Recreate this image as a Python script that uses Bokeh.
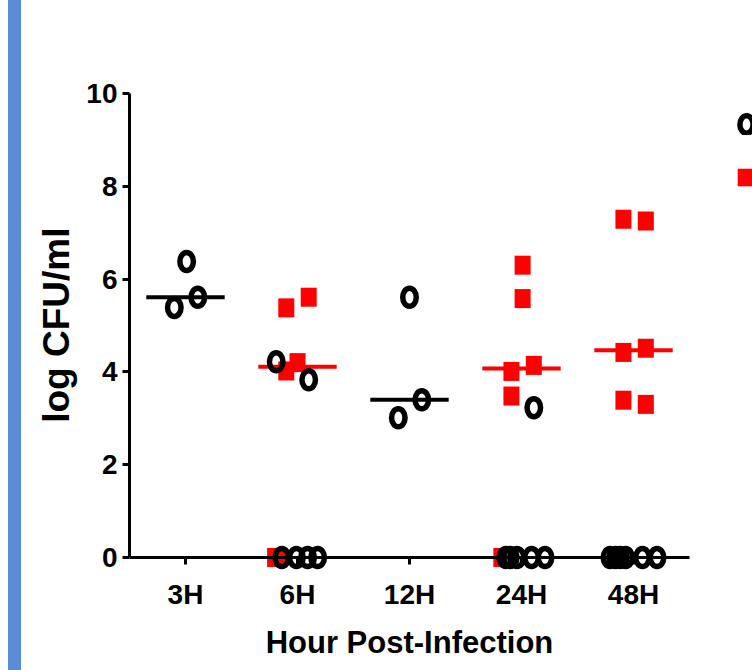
import numpy as np
from bokeh.plotting import figure
from bokeh.models import Range1d, FixedTicker, Legend, LegendItem, Div, ColumnDataSource
from bokeh.layouts import row
from bokeh.core.properties import value
from bokeh.embed import file_html
from bokeh.resources import INLINE

# ---------------- data ----------------
categories = ["3H", "6H", "12H", "24H", "48H"]
y_ticks = [0, 2, 4, 6, 8, 10]

# open circles (black group), log CFU/ml per time point
circle_values = [
    [5.39, 6.38, 5.61],
    [4.22, 3.83, 0, 0, 0, 0],
    [3.01, 5.61, 3.40],
    [3.23, 0, 0, 0, 0, 0],
    [0, 0, 0, 0, 0, 0],
]
# horizontal scatter offsets within a category (category units)
circle_jitter = [
    [-0.10, 0.01, 0.11],
    [-0.19, 0.10, -0.14, -0.01, 0.09, 0.18],
    [-0.10, 0.00, 0.11],
    [0.11, -0.14, -0.10, -0.04, 0.09, 0.21],
    [-0.21, -0.16, -0.12, -0.07, 0.08, 0.21],
]

# filled squares (red group)
square_values = [
    [],
    [5.38, 5.61, 4.20, 4.02, 0, 0],
    [],
    [6.30, 5.58, 4.14, 4.01, 3.48, 0],
    [7.29, 7.25, 4.51, 4.42, 3.39, 3.30],
]
square_jitter = [
    [],
    [-0.10, 0.10, 0.00, -0.10, -0.20, -0.17],
    [],
    [0.01, 0.01, 0.11, -0.09, -0.09, -0.18],
    [-0.09, 0.11, 0.11, -0.09, -0.09, 0.11],
]

RED = "#ff0000"
BLACK = "#000000"


def points(values, jitter):
    xs, ys = [], []
    for i, (vals, jit) in enumerate(zip(values, jitter)):
        for v, j in zip(vals, jit):
            xs.append(i + 1 + j)
            ys.append(v)
    return ColumnDataSource(dict(x=xs, y=ys))


def medians(values, half=0.35):
    x0, x1, y = [], [], []
    for i, vals in enumerate(values):
        if len(vals) == 0:
            continue
        m = float(np.median(vals))
        if m <= 0:
            continue
        x0.append(i + 1 - half)
        x1.append(i + 1 + half)
        y.append(m)
    return ColumnDataSource(dict(x0=x0, x1=x1, y=y))


# ---------------- figure ----------------
H = 670
p = figure(
    width=731, height=H,
    x_range=Range1d(0.5, 0.5 + 623 / 112),
    y_range=Range1d(-(H - 557) / 46.4, 10 + 93 / 46.4),
    output_backend="svg", toolbar_location=None,
    min_border_left=108, min_border_right=0, min_border_top=0, min_border_bottom=0,
)
p.outline_line_color = None
p.xgrid.visible = False
p.ygrid.visible = False
p.background_fill_color = "white"
p.border_fill_color = "white"

# median lines
msq = medians(square_values)
mci = medians(circle_values)
p.segment(x0="x0", y0="y", x1="x1", y1="y", source=msq, line_color=RED, line_width=4)
p.segment(x0="x0", y0="y", x1="x1", y1="y", source=mci, line_color=BLACK, line_width=4)

r_sq = p.rect(x="x", y="y", width=16, height=19, width_units="screen", height_units="screen",
              source=points(square_values, square_jitter), fill_color=RED, line_color=None)
r_ci = p.ellipse(x="x", y="y", width=13.5, height=18, width_units="screen", height_units="screen",
                 source=points(circle_values, circle_jitter), fill_color=None,
                 line_color=BLACK, line_width=5.5)

# axes
xa = p.xaxis[0]
ya = p.yaxis[0]
xa.ticker = FixedTicker(ticks=list(range(1, len(categories) + 1)))
xa.major_label_overrides = {i + 1: c for i, c in enumerate(categories)}
ya.ticker = FixedTicker(ticks=y_ticks)
xa.bounds = (0.5, 5.5)
ya.bounds = (0, 10)
xa.fixed_location = 0

for ax in (xa, ya):
    ax.axis_line_width = 3
    ax.axis_line_color = BLACK
    ax.major_tick_line_width = 3
    ax.major_tick_line_color = BLACK
    ax.major_tick_out = 7
    ax.major_tick_in = 0
    ax.minor_tick_line_color = None
    ax.major_label_text_font = "Liberation Sans"
    ax.major_label_text_font_style = "bold"
    ax.major_label_text_font_size = "28px"
    ax.major_label_text_color = BLACK
    ax.axis_label_text_font = "Liberation Sans"
    ax.axis_label_text_font_style = "bold"
    ax.axis_label_text_color = BLACK

xa.axis_label = "Hour Post-Infection"
xa.axis_label_text_font_size = "31px"
xa.major_label_standoff = 14
xa.axis_label_standoff = 12
# two leading no-break spaces shift the rotated label up to centre it on the 0-10 axis
ya.axis_label = "\u00a0\u00a0log CFU/ml"
ya.axis_label_text_font_size = "37px"
ya.major_label_standoff = 5
ya.axis_label_standoff = 6

legend = Legend(
    items=[LegendItem(label=value(""), renderers=[r_ci]),
           LegendItem(label=value(""), renderers=[r_sq])],
    location=(606, H - 188), glyph_width=22, glyph_height=22, spacing=31,
    padding=0, margin=0, border_line_color=None, background_fill_alpha=0,
    label_text_font_size="12px",
)
p.add_layout(legend)

gap = Div(text="", width=8, height=H, margin=(0, 0, 0, 0),
          styles={"background-color": "white"})
bar = Div(text="", width=13, height=H, margin=(0, 0, 0, 0),
          styles={"background-color": "#5a8cd7"})

layout = row(gap, bar, p)
open("out.html", "w").write(file_html(layout, INLINE))
